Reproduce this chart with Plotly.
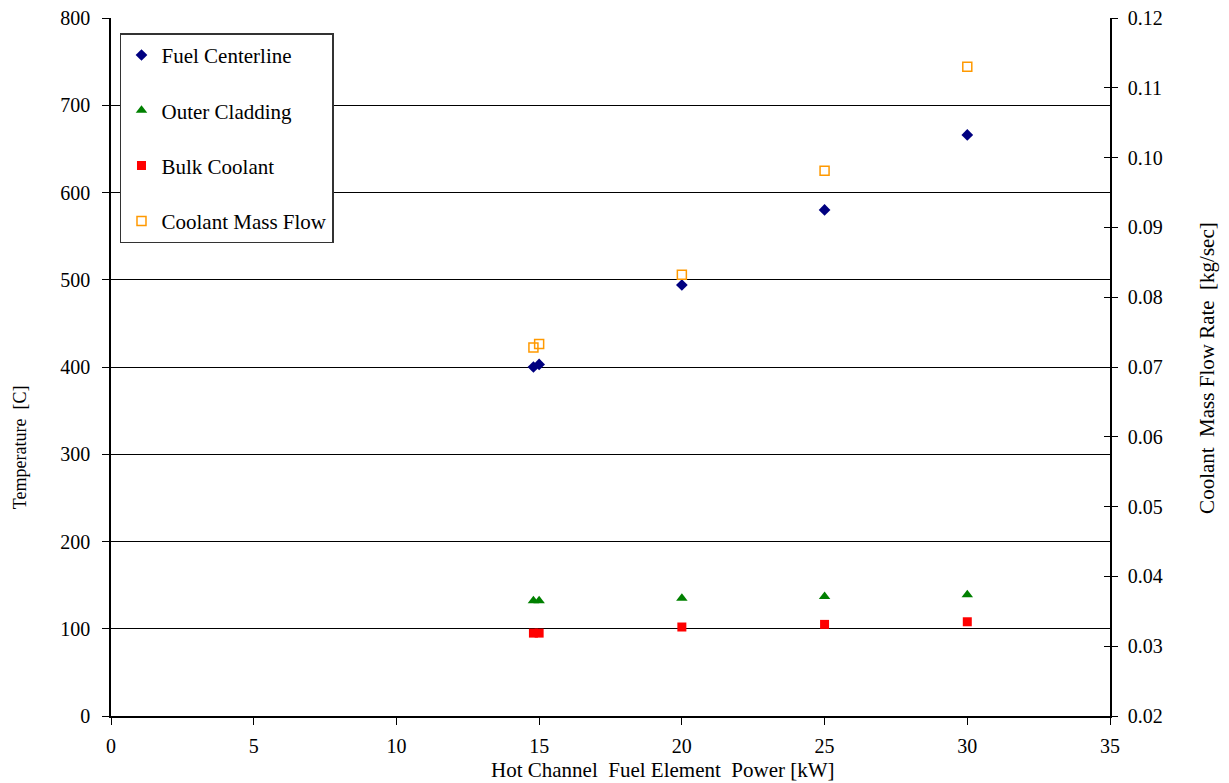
import plotly.graph_objects as go

# Hot channel fuel element power [kW]
power = [14.8, 15.0, 20, 25, 30]

# Temperatures [C]
fuel_centerline = [400, 403, 494, 580, 666]
outer_cladding = [132, 132, 135, 137, 139]
bulk_coolant = [95, 95, 102, 105, 108]

# Coolant mass flow rate [kg/sec]
coolant_mass_flow = [0.0728, 0.0733, 0.0832, 0.0981, 0.1130]

FONT = "Liberation Serif"

fig = go.Figure()

fig.add_trace(go.Scatter(
    x=power, y=fuel_centerline, mode="markers", name="Fuel Centerline",
    legendgroup="a",
    marker=dict(symbol="diamond", size=9, color="#000080")))
fig.add_trace(go.Scatter(
    x=power, y=outer_cladding, mode="markers", name="Outer Cladding",
    legendgroup="b",
    marker=dict(symbol="triangle-up", size=10, color="#008000")))
fig.add_trace(go.Scatter(
    x=power, y=bulk_coolant, mode="markers", name="Bulk Coolant",
    legendgroup="c",
    marker=dict(symbol="square", size=9, color="#FF0000")))
fig.add_trace(go.Scatter(
    x=power, y=coolant_mass_flow, mode="markers", name="Coolant Mass Flow",
    legendgroup="d", yaxis="y2",
    marker=dict(symbol="square-open", size=9, color="#FF9900",
                line=dict(width=1.5))))

fig.update_layout(
    width=1229, height=783,
    paper_bgcolor="white", plot_bgcolor="white",
    margin=dict(l=111, r=119, t=18, b=67),
    font=dict(family=FONT, size=20, color="black"),
    showlegend=True,
    legend=dict(
        x=0.009, y=0.978, xanchor="left", yanchor="top",
        bgcolor="white", bordercolor="#333333", borderwidth=1.5,
        font=dict(family=FONT, size=21, color="black"),
        tracegroupgap=25,
    ),
    xaxis=dict(
        range=[0, 35], tickvals=[0, 5, 10, 15, 20, 25, 30, 35],
        showgrid=False, zeroline=False, automargin=False,
        showline=True, linecolor="black", linewidth=1.5,
        ticks="outside", ticklen=7, tickcolor="black",
        ticklabelstandoff=4,
    ),
    yaxis=dict(
        range=[0, 800], tickvals=list(range(0, 801, 100)),
        showgrid=True, gridcolor="black", gridwidth=1,
        zeroline=False, automargin=False,
        showline=True, linecolor="black", linewidth=1.5,
        ticks="outside", ticklen=7, tickcolor="black",
        ticklabelstandoff=8,
    ),
    yaxis2=dict(
        range=[0.02, 0.12], tickvals=[0.02 + 0.01 * i for i in range(11)],
        tickformat=".2f",
        overlaying="y", side="right", automargin=False,
        showgrid=False, zeroline=False,
        showline=True, linecolor="black", linewidth=1.5,
        ticks="outside", ticklen=6, tickcolor="black",
        ticklabelstandoff=6,
    ),
    # inner half of the crossing ticks on the right axis
    yaxis3=dict(
        range=[0.02, 0.12], tickvals=[0.02 + 0.01 * i for i in range(11)],
        overlaying="y", side="right", anchor="x", automargin=False,
        showgrid=False, zeroline=False, showticklabels=False,
        showline=False, ticks="inside", ticklen=6, tickcolor="black",
    ),
)

# axis titles
fig.add_annotation(text="Hot Channel  Fuel Element  Power [kW]",
                   xref="paper", yref="paper", x=0.5526, y=-0.0774,
                   showarrow=False, font=dict(family=FONT, size=21),
                   xanchor="center", yanchor="middle")
fig.add_annotation(text="Temperature  [C]", textangle=-90,
                   xref="paper", yref="paper", x=-0.0911, y=0.385,
                   showarrow=False, font=dict(family=FONT, size=18),
                   xanchor="center", yanchor="middle")
fig.add_annotation(text="Coolant  Mass Flow Rate  [kg/sec]", textangle=-90,
                   xref="paper", yref="paper", x=1.097, y=0.4986,
                   showarrow=False, font=dict(family=FONT, size=21),
                   xanchor="center", yanchor="middle")

# the tick-only right axis needs a trace bound to it
fig.add_trace(go.Scatter(x=[None], y=[None], yaxis="y3", showlegend=False,
                         hoverinfo="skip"))

fig.write_html("out.html")
